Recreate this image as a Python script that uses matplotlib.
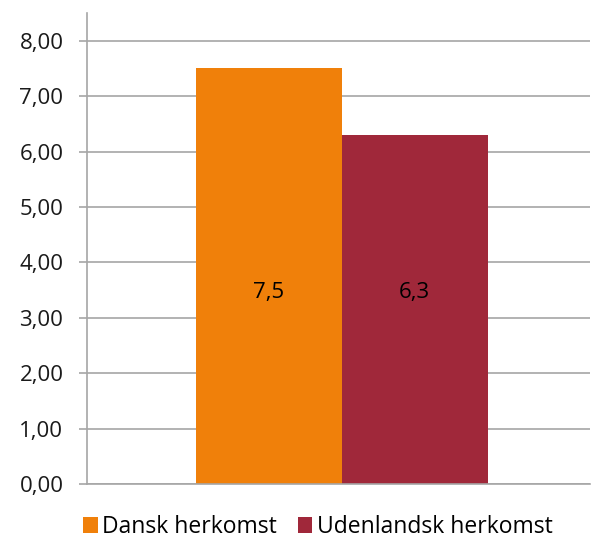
import matplotlib
matplotlib.use("Agg")
import matplotlib.pyplot as plt
from matplotlib.patches import Patch
import numpy as np

series = ["Dansk herkomst", "Udenlandsk herkomst"]
values = [7.5, 6.3]
value_labels = ["7,5", "6,3"]
colors = ["#F0800A", "#A0283A"]
yticks = [0, 1, 2, 3, 4, 5, 6, 7, 8]
ytick_labels = ["0,00", "1,00", "2,00", "3,00", "4,00", "5,00", "6,00", "7,00", "8,00"]

plt.rcParams["font.family"] = ["Open Sans", "DejaVu Sans"]

fig = plt.figure(figsize=(5.94, 5.41), dpi=100)
ax = fig.add_axes([0.1465, 0.1054, 0.847, 0.8706])

width = 0.29
offsets = np.array([-0.5, 0.5]) * width + 0.006
for off, v, lab, c in zip(offsets, values, value_labels, colors):
    ax.bar(off, v, width=width, color=c, zorder=2)
    ax.text(off, 3.45, lab, ha="center", va="center", fontsize=16, color="black", zorder=3)

ax.set_xlim(-0.5, 0.5)
ax.set_ylim(0, 8.5)
ax.set_yticks(yticks)
ax.set_yticklabels(ytick_labels, fontsize=16, color="#1a1a1a")
ax.set_xticks([])
ax.yaxis.grid(True, color="#A6A6A6", linewidth=1.2, zorder=0)
ax.set_axisbelow(True)
for s in ["top", "right"]:
    ax.spines[s].set_visible(False)
for s in ["left", "bottom"]:
    ax.spines[s].set_color("#A6A6A6")
    ax.spines[s].set_linewidth(1.2)
ax.tick_params(axis="y", length=6, width=1.2, color="#A6A6A6", pad=11)

handles = [Patch(facecolor=c, edgecolor="none") for c in colors]
fig.legend(handles, series, loc="center", bbox_to_anchor=(0.535, 0.026), ncol=2,
           frameon=False, fontsize=16.5, handlelength=0.65, handleheight=0.65,
           handletextpad=0.2, columnspacing=0.9, borderpad=0.1)

fig.savefig("out.png", dpi=100)
